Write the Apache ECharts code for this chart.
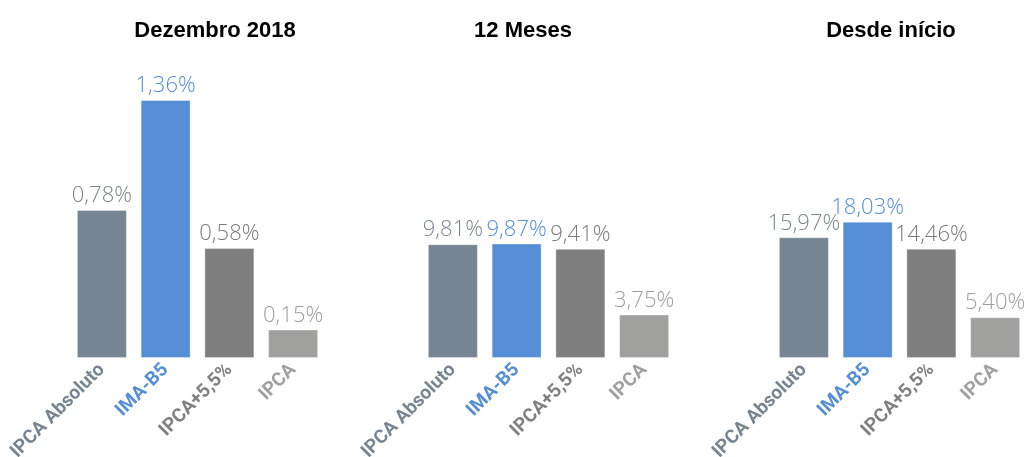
<!DOCTYPE html>
<html>
<head>
<meta charset="utf-8">
<script src="https://cdn.jsdelivr.net/npm/echarts@6/dist/echarts.min.js"></script>
<style>html,body{margin:0;padding:0;background:#fff}#c{width:1025px;height:457px}</style>
</head>
<body>
<div id="c"></div>
<script>
const categories = ['IPCA Absoluto', 'IMA-B5', 'IPCA+5,5%', 'IPCA'];
const panelTitles = ['Dezembro 2018', '12 Meses', 'Desde início'];
const dez2018 = [0.78, 1.36, 0.58, 0.15];
const meses12 = [9.81, 9.87, 9.41, 3.75];
const desdeInicio = [15.97, 18.03, 14.46, 5.40];

const panels = [dez2018, meses12, desdeInicio];
const barColors = ['#778592', '#558ED5', '#7F7F7F', '#A0A09F'];
const valueColors = ['#7B8691', '#558ED5', '#7A7A7A', '#9E9E9E'];
const catColors = ['#778592', '#558ED5', '#808080', '#A0A0A0'];
const gridLefts = [70, 421, 772];
const gridTops = [100, 243.5, 221.7];
const titleCenters = [210, 518, 886];

const chart = echarts.init(document.getElementById('c'), null, {renderer: 'canvas'});
const fmt = v => v.toFixed(2).replace('.', ',') + '%';

const option = {
  animation: false,
  backgroundColor: '#fff',
  title: panelTitles.map((t, i) => ({
    text: t,
    left: titleCenters[i],
    top: 15,
    textAlign: 'center',
    textStyle: {fontFamily: "'Liberation Sans', Arial, sans-serif", fontWeight: 'bold', fontSize: 22, color: '#000'}
  })),
  grid: panels.map((p, i) => ({left: gridLefts[i], top: gridTops[i], width: 255, bottom: 99, containLabel: false, outerBoundsMode: 'none'})),
  xAxis: panels.map((p, i) => ({
    type: 'category', gridIndex: i, data: categories,
    axisLine: {show: false}, axisTick: {show: false},
    axisLabel: {
      interval: 0, rotate: 45, margin: 9,
      fontFamily: "Roboto, sans-serif",
      fontWeight: 'bold', fontSize: 19,
      color: (v, idx) => catColors[categories.indexOf(v)]
    }
  })),
  yAxis: panels.map((p, i) => ({
    type: 'value', gridIndex: i, min: 0, max: 'dataMax', show: false,
    splitLine: {show: false}
  })),
  series: panels.map((p, i) => ({
    type: 'bar', xAxisIndex: i, yAxisIndex: i, barWidth: 50,
    data: p.map((v, j) => ({
      value: v,
      itemStyle: {color: barColors[j], borderColor: 'rgba(255,255,255,0.35)', borderWidth: 1},
      label: {color: valueColors[j]}
    })),
    label: {
      show: true, position: 'top', distance: 3,
      fontFamily: "'Open Sans', 'Noto Sans', sans-serif", fontWeight: 300, fontSize: 22,
      formatter: prm => fmt(prm.value)
    }
  }))
};
chart.setOption(option);
</script>
</body>
</html>
